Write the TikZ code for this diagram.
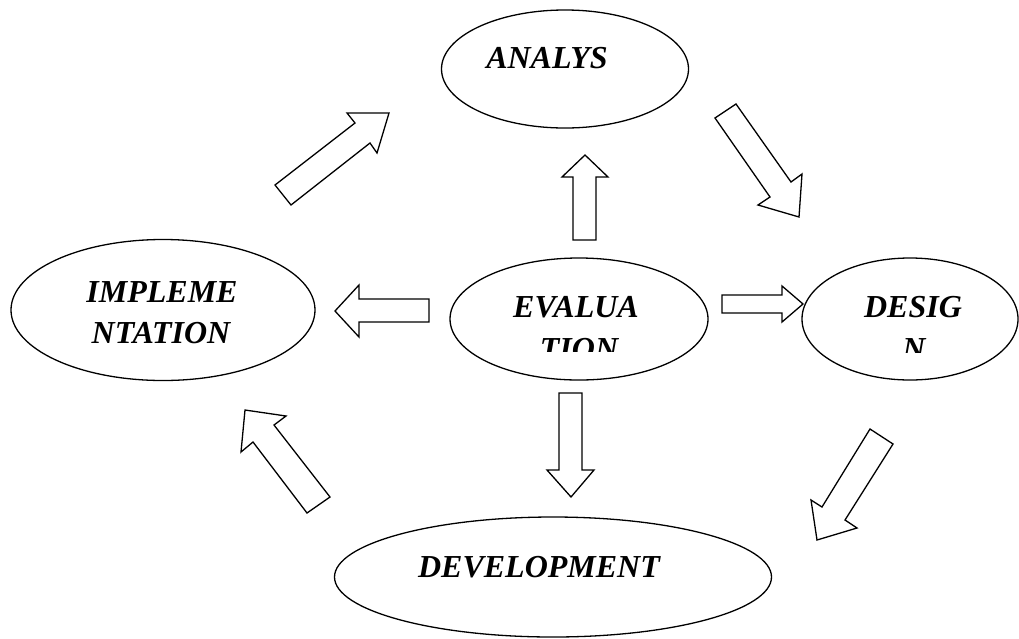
\documentclass[tikz,border=0pt]{standalone}
\usepackage{fontspec}
\setmainfont{Liberation Serif}
\usetikzlibrary{shapes.geometric}
\begin{document}
\begin{tikzpicture}[x=1pt,y=-1pt,
  stage/.style={draw, ellipse, line width=1.3pt, inner sep=0pt},
  stagetext/.style={font=\fontsize{32}{38}\selectfont\bfseries\itshape, inner sep=0pt, anchor=base},
  blockarrow/.style={draw, line width=1.3pt, line join=miter, fill=white}]
\clip (0,0) rectangle (1019,638);
\fill[white] (0,0) rectangle (1019,638);
% stages
\node[stage, minimum width=247pt, minimum height=118pt] (analys) at (565,69) {};
\node[stage, minimum width=304pt, minimum height=141pt] (impl) at (163,310) {};
\node[stage, minimum width=258pt, minimum height=122pt] (eval) at (579,319) {};
\node[stage, minimum width=216pt, minimum height=122pt] (design) at (910,319) {};
\node[stage, minimum width=437pt, minimum height=120pt] (dev) at (553,577) {};
% texts
\node[stagetext] (analysT) at (547,68) {ANALYS};
\node[stagetext] (implT1) at (162,302) {IMPLEME};
\node[stagetext] (implT2) at (161,343) {NTATION};
\node[stagetext] (devT) at (539,577) {DEVELOPMENT};
\begin{scope}
  \clip (440,250) rectangle (720,351);
  \node[stagetext] (evalT1) at (576,317) {EVALUA};
  \node[stagetext] (evalT2) at (579,359) {TION};
\end{scope}
\begin{scope}
  \clip (800,250) rectangle (1019,352);
  \node[stagetext] (designT1) at (913,317) {DESIG};
  \node[stagetext] (designT2) at (914,359) {N};
\end{scope}
% block arrows from evaluation
\draw[blockarrow] (573,240) -- (573,177) -- (562,177) -- (585,155) -- (608,177) -- (596,177) -- (596,240) -- cycle;
\draw[blockarrow] (429,299) -- (359,299) -- (359,285) -- (335,311) -- (359,337) -- (359,322) -- (429,322) -- cycle;
\draw[blockarrow] (722,295) -- (782,295) -- (782,286) -- (803,304) -- (782,322) -- (782,313) -- (722,313) -- cycle;
\draw[blockarrow] (559,393) -- (582,393) -- (582,470) -- (594,470) -- (571,497) -- (547,470) -- (559,470) -- cycle;
% cycle arrows
\draw[blockarrow] (275,185) -- (355,123) -- (347,113) -- (389,113) -- (377,153) -- (370,143) -- (291,205) -- cycle;
\draw[blockarrow] (715,118) -- (736,104) -- (791,182) -- (802,174) -- (799,217) -- (758,205) -- (770,197) -- cycle;
\draw[blockarrow] (870,429) -- (893,444) -- (845,520) -- (857,528) -- (817,540) -- (811,500) -- (822,507) -- cycle;
\draw[blockarrow] (245,410) -- (286,416) -- (274,425) -- (330,497) -- (307,513) -- (253,442) -- (241,452) -- cycle;
\end{tikzpicture}
\end{document}
